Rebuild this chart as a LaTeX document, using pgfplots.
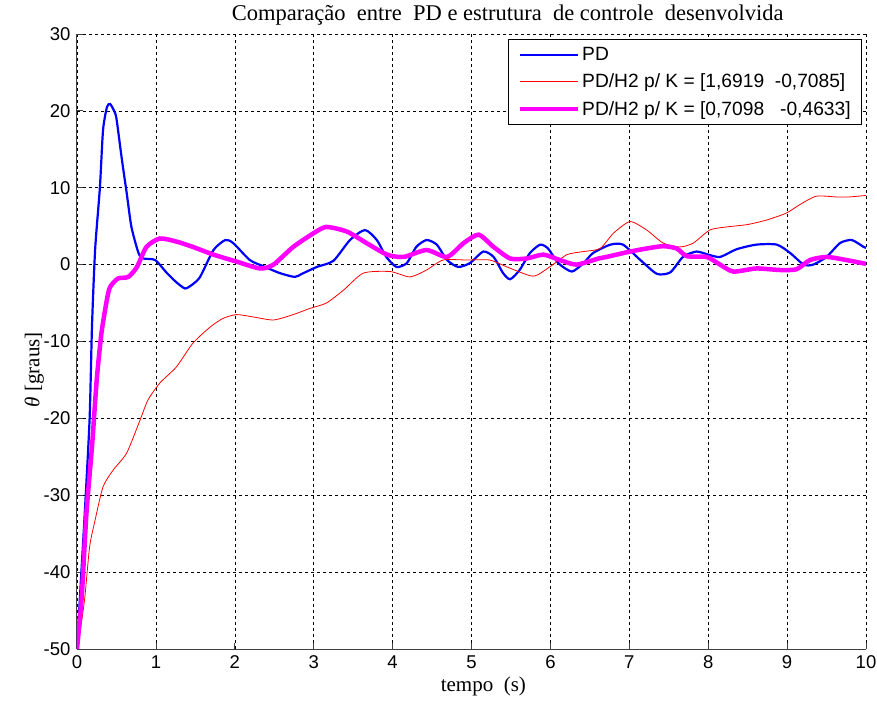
\documentclass[border=0pt]{standalone}
\usepackage{fontspec}
\setmainfont{Liberation Sans}
\newfontfamily\seriff{Liberation Serif}
\usepackage{pgfplots}
\pgfplotsset{compat=1.18}
\definecolor{mag}{RGB}{255,0,255}
\definecolor{bl}{RGB}{0,0,255}
\definecolor{rd}{RGB}{255,0,0}
\begin{document}
\begin{tikzpicture}
\begin{axis}[
  at={(0,0)}, anchor=south west,
  scale only axis, width=789pt, height=615pt,
  xmin=0, xmax=10, ymin=-50, ymax=30,
  xtick={0,1,...,10}, ytick={-50,-40,...,30},
  axis x line*=bottom, axis y line*=left,
  axis line style={line width=1pt, color=black!75},
  tick align=inside, major tick length=6pt,
  tick style={black!75, line width=0.8pt},
  grid=major, grid style={black, dash pattern=on 3pt off 3pt, line width=0.6pt},
  ticklabel style={font=\fontsize{18.5}{20}\selectfont},
  xticklabel style={yshift=-3pt},
  yticklabel style={xshift=-3pt},
  /pgf/number format/assume math mode=true,
  title={Comparação\ \ entre\ \ PD\ e estrutura\ \ de controle\ \ desenvolvida},
  title style={font=\seriff\fontsize{22.5}{24}\selectfont, at={(0.546,1)}, anchor=south, yshift=-1pt},
  xlabel={tempo\ \ (s)},
  ylabel={{\itshape θ} [graus]},
  label style={font=\seriff\fontsize{21}{24}\selectfont},
  xlabel style={at={(ticklabel cs:0.515)}, anchor=north, yshift=-1pt},
  ylabel style={at={(ticklabel cs:0.454)}, anchor=south, yshift=-7pt},
  legend style={at={(0.995,0.992)}, anchor=north east, draw=black, line width=0.8pt,
    font=\fontsize{19.2}{21}\selectfont, cells={anchor=west}, row sep=8pt,
    inner xsep=9pt, inner ysep=6pt},
  legend image code/.code={\draw[#1] (0pt,0pt) -- (58pt,0pt);},
]
\addplot[bl, line width=2.2pt, smooth, tension=0.4] coordinates {
(0,-50) (0.05,-41) (0.10,-32) (0.16,-20) (0.19,-8) (0.23,2) (0.29,10) (0.33,17.5)
(0.38,20.5) (0.42,20.9) (0.47,20) (0.50,19) (0.57,13.6) (0.63,9.3) (0.69,4.9)
(0.78,1.5) (0.84,0.8) (0.99,0.6) (1.14,-1.1) (1.26,-2.3) (1.37,-3.1) (1.46,-2.6)
(1.56,-1.6) (1.73,1.9) (1.88,3.2) (1.98,2.8) (2.19,0.6) (2.36,-0.2) (2.57,-1.1)
(2.76,-1.6) (2.85,-1.2) (3.04,-0.3) (3.25,0.5) (3.46,3.2) (3.65,4.5) (3.80,3.2)
(3.92,1.0) (4.05,-0.3) (4.18,0.2) (4.30,2.3) (4.43,3.2) (4.56,2.6) (4.69,0.6)
(4.83,-0.3) (4.98,0.2) (5.15,1.7) (5.28,1.0) (5.40,-1.1) (5.49,-1.9) (5.61,-0.7)
(5.74,1.5) (5.87,2.6) (5.97,2.1) (6.10,0.2) (6.27,-0.9) (6.42,0.2) (6.54,1.5)
(6.76,2.6) (6.92,2.6) (7.14,0.6) (7.35,-1.2) (7.52,-1.0) (7.68,1.0) (7.85,1.7)
(8.0,1.3) (8.15,1.0) (8.36,2.0) (8.61,2.6) (8.87,2.6) (9.04,1.5) (9.21,0)
(9.33,0) (9.50,1.0) (9.67,2.8) (9.82,3.2) (9.97,2.3) (10,2.2)
};
\addlegendentry{PD}
\addplot[rd, line width=0.8pt, smooth, tension=0.4] coordinates {
(0,-50) (0.05,-47) (0.10,-43.2) (0.16,-36.7) (0.23,-33.2) (0.33,-28.9) (0.46,-26.7)
(0.63,-24.5) (0.80,-20.2) (0.90,-17.6) (1.05,-15.4) (1.26,-13.3) (1.47,-10.2)
(1.69,-8.1) (1.85,-7.0) (2.02,-6.5) (2.23,-6.8) (2.49,-7.2) (2.74,-6.5) (2.95,-5.7)
(3.16,-5.0) (3.38,-3.3) (3.63,-1.1) (3.97,-0.9) (4.22,-1.6) (4.43,-0.7) (4.64,0.6)
(4.94,0.6) (5.23,0.6) (5.45,-0.3) (5.78,-1.5) (5.99,-0.3) (6.21,1.3) (6.42,1.7)
(6.63,2.1) (6.80,4.1) (7.01,5.6) (7.22,4.5) (7.43,2.8) (7.64,2.3) (7.81,2.8)
(8.02,4.5) (8.23,4.9) (8.49,5.2) (8.74,5.8) (8.99,6.7) (9.16,7.8) (9.37,8.9)
(9.63,8.8) (9.78,8.8) (10,9.0)
};
\addlegendentry{PD/H2 p/ K = [1,6919\ \ -0,7085]}
\addplot[mag, line width=4.5pt, smooth, tension=0.4] coordinates {
(0,-50) (0.06,-43.2) (0.12,-32.3) (0.19,-23.7) (0.25,-15) (0.31,-8.9) (0.38,-4.5)
(0.42,-2.9) (0.52,-1.8) (0.65,-1.6) (0.76,-0.3) (0.88,2.3) (1.05,3.4) (1.26,3.0)
(1.47,2.3) (1.73,1.3) (2.02,0.4) (2.32,-0.5) (2.49,0) (2.74,2.3) (3.0,4.1)
(3.16,4.9) (3.42,4.3) (3.67,2.8) (3.93,1.3) (4.14,1.0) (4.43,1.9) (4.69,1.0)
(4.90,2.8) (5.09,3.9) (5.28,2.3) (5.49,0.8) (5.70,0.8) (5.91,1.3) (6.12,0.6)
(6.33,0) (6.61,0.8) (6.71,1.0) (7.01,1.7) (7.22,2.1) (7.43,2.4) (7.60,2.1)
(7.73,1.1) (7.98,1.0) (8.15,0) (8.32,-0.9) (8.61,-0.5) (8.91,-0.7) (9.12,-0.6)
(9.29,0.6) (9.50,1.0) (9.75,0.6) (10,0.1)
};
\addlegendentry{PD/H2 p/ K = [0,7098\ \ \ -0,4633]}
\end{axis}
\pgfresetboundingbox
\path[use as bounding box] (-77pt,-55pt) rectangle (800pt,649pt);
\end{tikzpicture}
\end{document}
